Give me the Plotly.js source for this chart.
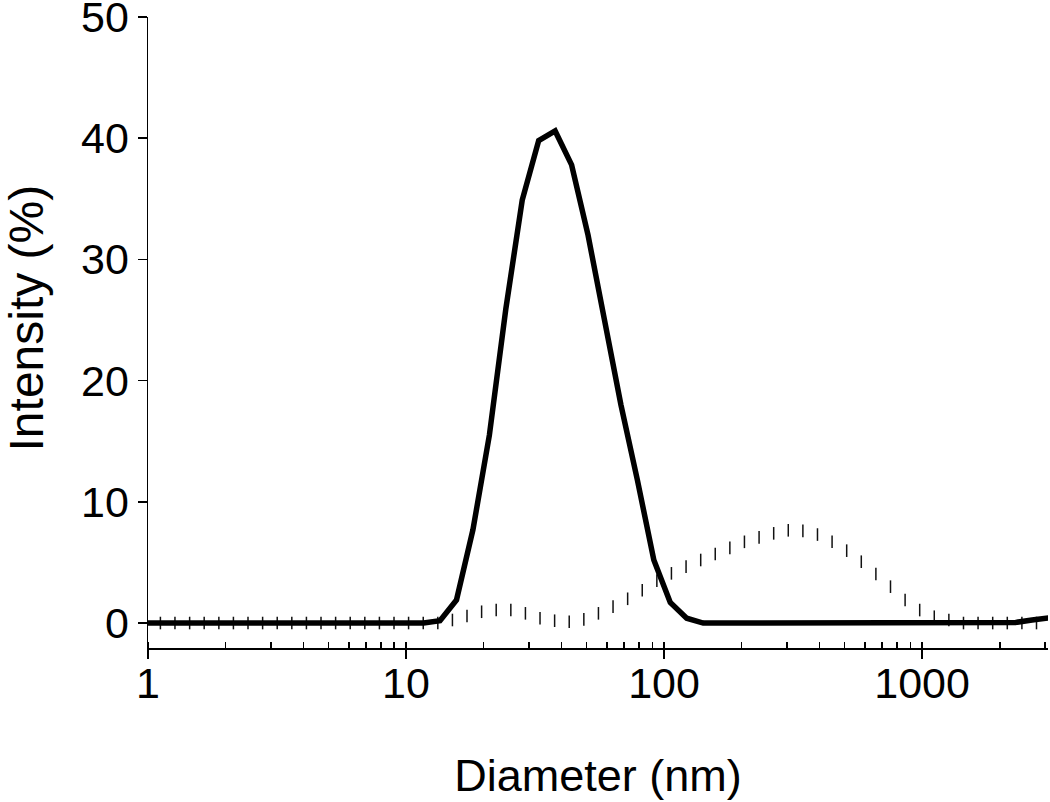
<!DOCTYPE html>
<html>
<head>
<meta charset="utf-8">
<script src="https://cdn.plot.ly/plotly-3.0.1.min.js"></script>
<style>
  html, body { margin: 0; padding: 0; background: #fff; }
  #chart { width: 1050px; height: 802px; }
</style>
</head>
<body>
<div id="chart"></div>
<script>
// size bins (nm) for the solid curve
var solidSize = [0.4, 0.4632, 0.5365, 0.6213, 0.7195, 0.8332, 0.9649, 1.117, 1.294, 1.499,
    1.736, 2.010, 2.328, 2.696, 3.122, 3.615, 4.187, 4.849, 5.615, 6.503,
    7.531, 8.721, 10.10, 11.70, 13.54, 15.69, 18.17, 21.04, 24.36, 28.21,
    32.67, 37.84, 43.82, 50.75, 58.77, 68.06, 78.82, 91.28, 105.7, 122.4,
    141.8, 164.2, 190.1, 220.2, 255.0, 295.3, 342.0, 396.1, 458.7, 531.2,
    615.1, 712.4, 825.0, 955.4, 1106, 1281, 1484, 1718, 1990, 2305,
    2669, 3091, 3580];
var solidIntensity = [0, 0, 0, 0, 0, 0, 0, 0, 0, 0,
    0, 0, 0, 0, 0, 0, 0, 0, 0, 0,
    0, 0, 0, 0, 0.2, 1.9, 7.7, 15.5, 25.9, 34.9,
    39.8, 40.6, 37.8, 32.0, 25.0, 18.0, 11.8, 5.2, 1.7, 0.4,
    0, 0, 0, 0, 0, 0, 0, 0, 0, 0,
    0, 0, 0, 0, 0, 0, 0, 0, 0, 0.05,
    0.25, 0.45, 0.6];

// size bins (nm) for the dotted curve
var dotSize = [1.117, 1.272, 1.450, 1.651, 1.882, 2.143, 2.441, 2.781, 3.168, 3.609,
    4.111, 4.683, 5.335, 6.077, 6.923, 7.886, 8.983, 10.23, 11.66, 13.28,
    15.13, 17.23, 19.63, 22.36, 25.48, 29.02, 33.06, 37.66, 42.90, 48.88,
    55.68, 63.43, 72.26, 82.31, 93.78, 106.8, 121.7, 138.7, 157.9, 179.9,
    204.9, 233.5, 266.0, 303.0, 345.2, 393.2, 447.9, 510.3, 581.3, 662.2,
    754.4, 859.4, 979.0, 1115, 1270, 1447, 1648, 1878, 2139, 2437,
    2776];
var dotIntensity = [0, 0, 0, 0, 0, 0, 0, 0, 0, 0,
    0, 0, 0, 0, 0, 0, 0, 0, 0, 0,
    0.25, 0.58, 0.93, 1.07, 1.07, 0.8, 0.39, 0.19, 0.1, 0.3,
    0.8, 1.35, 2.0, 2.7, 3.5, 4.1, 4.65, 5.2, 5.7, 6.2,
    6.7, 7.07, 7.4, 7.65, 7.6, 7.3, 6.7, 5.97, 5.06, 4.04,
    3.0, 1.9, 1.07, 0.52, 0.25, 0, 0, 0, 0, 0,
    0];

var xTickVals = [1, 10, 100, 1000];
var xTickText = ['1', '10', '100', '1000'];

var FONT = 'Liberation Sans, Arial, sans-serif';

var data = [
    {
        x: dotSize,
        y: dotIntensity,
        type: 'scatter',
        mode: 'markers',
        marker: {
            symbol: 'line-ns-open',
            size: 9,
            color: '#111',
            line: { color: '#111', width: 1.5 }
        },
        hoverinfo: 'skip'
    },
    {
        x: solidSize,
        y: solidIntensity,
        type: 'scatter',
        mode: 'lines',
        line: { color: '#000', width: 5.5 },
        hoverinfo: 'skip'
    }
];

var layout = {
    width: 1050,
    height: 802,
    margin: { l: 148, r: 2, t: 17, b: 154 },
    paper_bgcolor: '#fff',
    plot_bgcolor: '#fff',
    showlegend: false,
    font: { family: FONT, color: '#000', size: 43 },
    xaxis: {
        type: 'log',
        range: [0, 3.488],
        tickmode: 'array',
        tickvals: xTickVals,
        ticktext: xTickText,
        ticks: 'outside',
        ticklen: 9,
        tickwidth: 1.5,
        tickcolor: '#000',
        ticklabelstandoff: -12,
        showline: true,
        linecolor: '#000',
        linewidth: 1.5,
        showgrid: false,
        zeroline: false,
        tickfont: { family: FONT, size: 43, color: '#000' },
        minor: {
            tickmode: 'linear',
            dtick: 'D1',
            ticks: 'inside',
            ticklen: 6,
            tickwidth: 1.5,
            tickcolor: '#000',
            showgrid: false
        },
        title: {
            text: 'Diameter (nm)',
            font: { family: FONT, size: 45, color: '#000' },
            standoff: 53
        }
    },
    yaxis: {
        range: [-2.06, 50],
        tickmode: 'linear',
        tick0: 0,
        dtick: 10,
        ticks: 'outside',
        ticklen: 9,
        tickwidth: 1.5,
        tickcolor: '#000',
        ticklabeloverflow: 'allow',
        showline: true,
        linecolor: '#000',
        linewidth: 1.5,
        showgrid: false,
        zeroline: false,
        tickfont: { family: FONT, size: 43, color: '#000' }
    },
    annotations: [
        {
            text: 'Intensity (%)',
            xref: 'paper', yref: 'paper',
            x: -0.135, y: 0.523,
            xanchor: 'center', yanchor: 'middle',
            textangle: -90,
            showarrow: false,
            font: { family: FONT, size: 48, color: '#000' }
        }
    ]
};

Plotly.newPlot('chart', data, layout, { displayModeBar: false, staticPlot: true });
</script>
</body>
</html>
